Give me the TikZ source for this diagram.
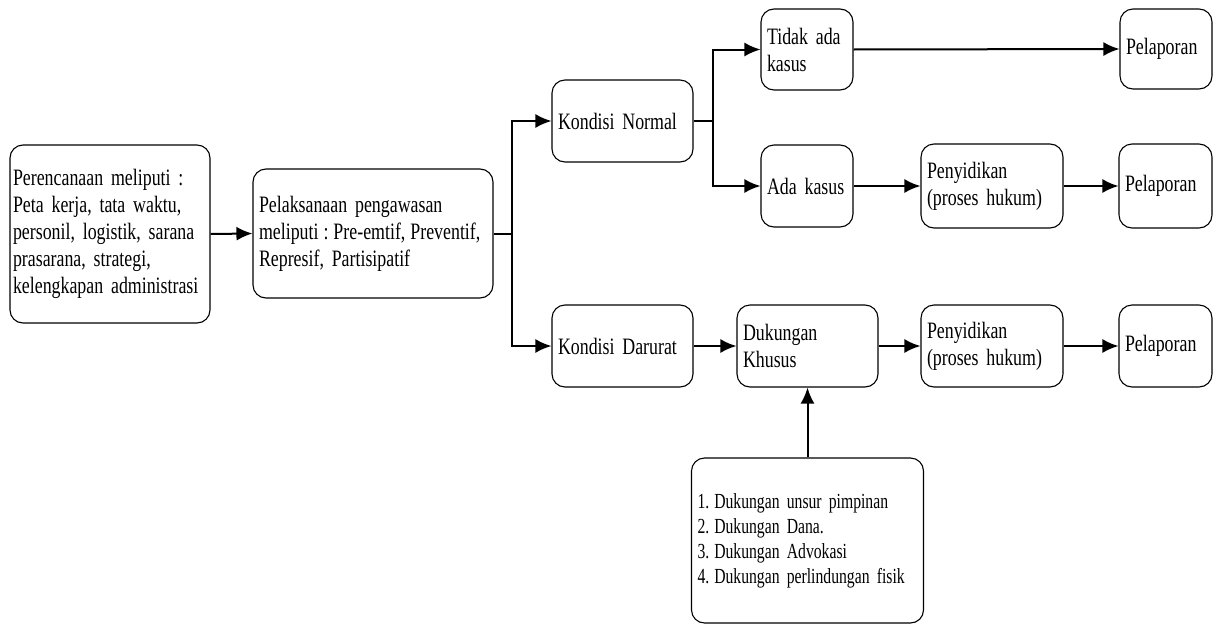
\documentclass[tikz,border=0pt]{standalone}
\usepackage{fontspec}
\setmainfont{Liberation Serif}[FakeStretch=0.76]
\newfontfamily\listfam{Liberation Serif}[FakeStretch=0.73]
\usetikzlibrary{arrows.meta}
\newcommand\myboxfont{\fontsize{23.5}{27}\selectfont\spaceskip=4pt\relax}
\newcommand\mylistfont{\listfam\fontsize{21.5}{25}\selectfont\spaceskip=3.6pt\relax}
\begin{document}
\begin{tikzpicture}[x=1pt,y=-1pt,
  box/.style={draw, rounded corners=13pt, line width=1.1pt, align=left,
    inner xsep=6pt, inner ysep=0pt, font=\myboxfont},
  smallbox/.style={box, font=\mylistfont},
  arr/.style={line width=2pt, -{Latex[length=16pt,width=14pt]}},
  ln/.style={line width=2pt}]
\useasboundingbox[fill=white] (0,0) rectangle (1213,624);

\node[box, inner xsep=3pt, text width=194pt, minimum height=178pt] (plan) at (110,234)
  {\mbox{Perencanaan meliputi :}\\\mbox{Peta kerja, tata waktu,}\\\mbox{personil, logistik, sarana}\\\mbox{prasarana, strategi,}\\\mbox{kelengkapan administrasi}};
\node[box, text width=228pt, minimum height=129pt] (exec) at (373,233.5)
  {\mbox{Pelaksanaan pengawasan}\\\mbox{meliputi\hspace{5pt}:\hspace{5pt}Pre-emtif,\hspace{5pt}Preventif,}\\\mbox{Represif, Partisipatif}};
\node[box, text width=129pt, minimum height=82pt] (normal) at (622.5,121) {Kondisi Normal};
\node[box, text width=129pt, minimum height=82pt] (darurat) at (622.5,346) {Kondisi Darurat};
\node[box, text width=80pt, minimum height=81pt] (tidak) at (807,49.5) {\mbox{Tidak ada}\\kasus};
\node[box, text width=80pt, minimum height=82pt] (ada) at (807,186) {\mbox{Ada kasus}};
\node[box, text width=80pt, minimum height=80pt] (pel1) at (1166,49) {Pelaporan};
\node[box, text width=130pt, minimum height=84pt] (pen1) at (992,186) {Penyidikan\\\mbox{(proses hukum)}};
\node[box, text width=81pt, minimum height=84pt] (pel2) at (1165.5,186) {Pelaporan};
\node[box, text width=129pt, minimum height=82pt] (duk) at (807.5,346) {Dukungan\\Khusus};
\node[box, text width=130pt, minimum height=82pt] (pen2) at (992,346) {Penyidikan\\\mbox{(proses hukum)}};
\node[box, text width=81pt, minimum height=82pt] (pel3) at (1165.5,346) {Pelaporan};
\node[smallbox, text width=220pt, minimum height=165pt] (list) at (807.5,540.5)
  {\mbox{1.\hspace{5pt}Dukungan unsur pimpinan}\\\mbox{2.\hspace{5pt}Dukungan Dana.}\\\mbox{3.\hspace{5pt}Dukungan Advokasi}\\\mbox{4.\hspace{5pt}Dukungan perlindungan fisik}};

\coordinate (j1) at (512,233.5);
\coordinate (j2) at (713,121);

\draw[arr] (plan.east) -- (exec.west);
\draw[ln] (exec.east) -- (j1);
\draw[arr] (j1) |- (normal.west);
\draw[arr] (j1) |- (darurat.west);
\draw[ln] (normal.east) -- (j2);
\draw[arr] (j2) |- (tidak.west);
\draw[arr] (j2) |- (ada.west);
\draw[arr] (tidak.east) -- (pel1.west);
\draw[arr] (ada.east) -- (pen1.west);
\draw[arr] (pen1.east) -- (pel2.west);
\draw[arr] (darurat.east) -- (duk.west);
\draw[arr] (duk.east) -- (pen2.west);
\draw[arr] (pen2.east) -- (pel3.west);
\draw[arr] (list.north) -- (duk.south);
\end{tikzpicture}
\end{document}
